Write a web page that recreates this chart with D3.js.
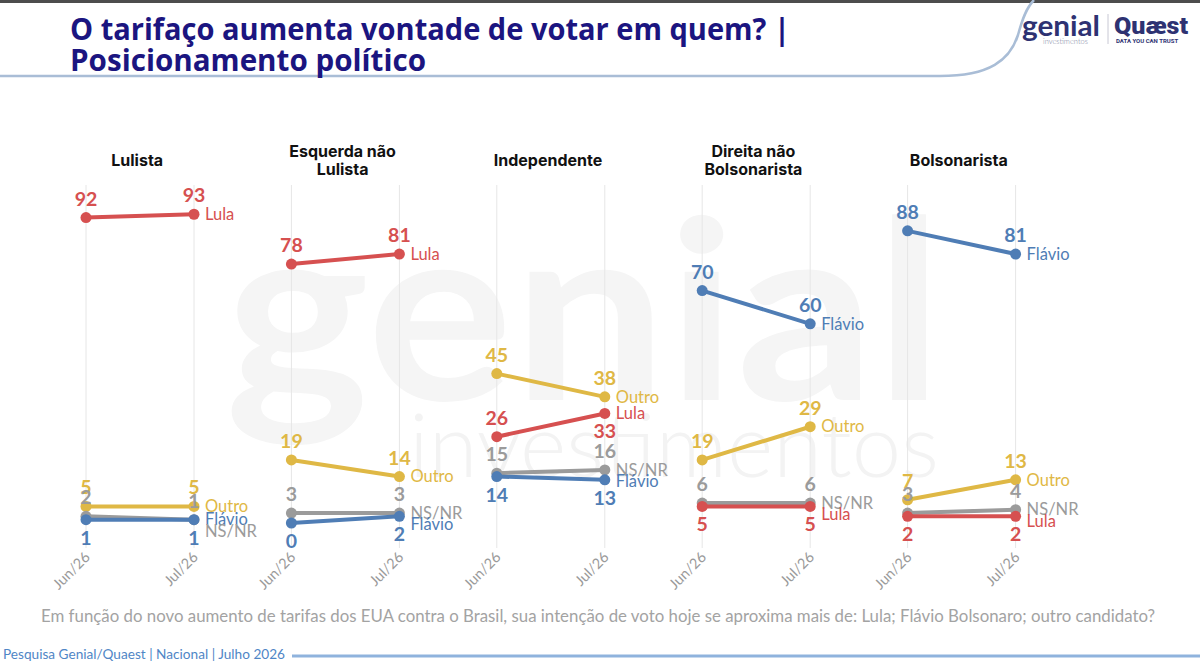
<!DOCTYPE html>
<html>
<head>
<meta charset="utf-8">
<script src="https://cdn.jsdelivr.net/npm/d3@7"></script>
<style>
  body { margin: 0; background: #fff; }
  svg { display: block; }
</style>
</head>
<body>
<div id="chart"></div>
<script>
// chart data
var panels = ["Lulista", "Esquerda não Lulista", "Independente", "Direita não Bolsonarista", "Bolsonarista"];
var panelTitleLines = [["Lulista"], ["Esquerda não", "Lulista"], ["Independente"], ["Direita não", "Bolsonarista"], ["Bolsonarista"]];
var periods = ["Jun/26", "Jul/26"];
var seriesNames = ["Outro", "NS/NR", "Flávio", "Lula"];

// values per panel: [Jun/26, Jul/26]
var lula   = [[92, 93], [78, 81], [26, 33], [5, 5], [2, 2]];
var flavio = [[1, 1], [0, 2], [14, 13], [70, 60], [88, 81]];
var outro  = [[5, 5], [19, 14], [45, 38], [19, 29], [7, 13]];
var nsnr   = [[2, 1], [3, 3], [15, 16], [6, 6], [3, 4]];

var valuesBySeries = {"Lula": lula, "Flávio": flavio, "Outro": outro, "NS/NR": nsnr};
var colors = {"Lula": "#d65050", "Flávio": "#4f7db5", "Outro": "#dfb845", "NS/NR": "#9b9b9b"};

// value labels placed under the point: [series, panel, period]
var belowLabels = [
  ["Flávio", 0, 0], ["Flávio", 0, 1],
  ["Flávio", 1, 0], ["Flávio", 1, 1],
  ["Flávio", 2, 0], ["Flávio", 2, 1], ["Lula", 2, 1],
  ["Lula", 3, 0], ["Lula", 3, 1],
  ["Lula", 4, 0], ["Lula", 4, 1]
];

var width = 1200, height = 663;

var svg = d3.select("#chart")
  .append("svg")
    .attr("width", width)
    .attr("height", height);

// watermark
svg.append("text")
  .attr("x", 225).attr("y", 400)
  .attr("textLength", 718).attr("lengthAdjust", "spacingAndGlyphs")
  .style("font-family", "Lato").style("font-weight", 700)
  .style("font-size", "250px").style("fill", "#f5f5f5")
  .text("genial");
svg.append("text")
  .attr("x", 409).attr("y", 477)
  .attr("textLength", 530).attr("lengthAdjust", "spacingAndGlyphs")
  .style("font-family", "Lato").style("font-weight", 300)
  .style("font-size", "88px").style("fill", "#f3f3f3")
  .text("investimentos");

// header
svg.append("rect").attr("x", 0).attr("y", 0).attr("width", width).attr("height", 3).style("fill", "#4d4d4d");
svg.append("path")
  .attr("d", "M0,76 L940,76 C990,76 1010,60 1018,35 C1022,20 1026,8 1034,0")
  .style("fill", "none").style("stroke", "#a9bdd6").style("stroke-width", 2.5);

var title = svg.append("text")
  .style("font-family", "Open Sans").style("font-weight", 700)
  .style("font-size", "30px").style("fill", "#1b1580");
title.append("tspan").attr("x", 70).attr("y", 40)
  .attr("textLength", 720).attr("lengthAdjust", "spacingAndGlyphs")
  .text("O tarifaço aumenta vontade de votar em quem? |");
title.append("tspan").attr("x", 70).attr("y", 71)
  .attr("textLength", 356).attr("lengthAdjust", "spacingAndGlyphs")
  .text("Posicionamento político");

// logos
svg.append("text").attr("x", 1022).attr("y", 36)
  .attr("textLength", 78).attr("lengthAdjust", "spacingAndGlyphs")
  .style("font-family", "Lato").style("font-weight", 700).style("font-size", "29px").style("fill", "#2e3272")
  .text("genial");
svg.append("text").attr("x", 1043).attr("y", 44)
  .style("font-family", "Lato").style("font-weight", 300).style("font-size", "7.5px").style("fill", "#7a7f9e")
  .text("investimentos");
svg.append("line").attr("x1", 1108).attr("x2", 1108).attr("y1", 14).attr("y2", 44)
  .style("stroke", "#c8c8d4").style("stroke-width", 1);
svg.append("text").attr("x", 1114).attr("y", 34)
  .attr("textLength", 74).attr("lengthAdjust", "spacingAndGlyphs")
  .style("font-family", "Roboto").style("font-weight", 900).style("font-size", "24px").style("fill", "#2e3272")
  .text("Quæst");
svg.append("text").attr("x", 1116).attr("y", 43)
  .style("font-family", "Roboto").style("font-weight", 700).style("font-size", "6px").style("fill", "#2e3272")
  .text("DATA YOU CAN TRUST");

// scales
var xPanel = d3.scaleBand().domain(panels).range([37.5, 1064.5]);
var xPeriod = d3.scalePoint().domain(periods).range([48.5, 156.5]);
var y = d3.scaleLinear().domain([0, 100]).range([523, 191]);

function px(panel, period) { return xPanel(panel) + xPeriod(period); }

panels.forEach(function(panel, pi) {
  var g = svg.append("g");

  // panel title
  var lines = panelTitleLines[pi];
  var cx = xPanel(panel) + xPanel.bandwidth() / 2 - 3;
  var ty = lines.length == 1 ? 166 : 157;
  lines.forEach(function(t, li) {
    g.append("text")
      .attr("x", cx).attr("y", ty + li * 18)
      .attr("text-anchor", "middle")
      .style("font-family", "Inter").style("font-weight", 700)
      .style("font-size", "16px").style("fill", "#111")
      .text(t);
  });

  // vertical grid lines + period labels
  periods.forEach(function(p) {
    var x = px(panel, p);
    g.append("line")
      .attr("x1", x).attr("x2", x).attr("y1", 185).attr("y2", 548)
      .style("stroke", "#e6e6e6").style("stroke-width", 1);
    g.append("text")
      .attr("transform", "translate(" + (x + 5) + ",558) rotate(-45)")
      .attr("text-anchor", "end")
      .style("font-family", "Lato").style("font-size", "14.5px").style("fill", "#9a9a9a")
      .text(p);
  });

  // lines and dots
  seriesNames.forEach(function(s) {
    var vals = valuesBySeries[s][pi];
    var pts = periods.map(function(p, i) { return {period: p, i: i, v: vals[i]}; });
    g.append("path")
      .datum(pts)
      .attr("d", d3.line()
        .x(function(d) { return px(panel, d.period); })
        .y(function(d) { return y(d.v); }))
      .style("fill", "none").style("stroke", colors[s]).style("stroke-width", 4);
    g.selectAll(null)
      .data(pts)
      .enter()
      .append("circle")
        .attr("cx", function(d) { return px(panel, d.period); })
        .attr("cy", function(d) { return y(d.v); })
        .attr("r", 5.5)
        .style("fill", colors[s]);
  });

  // value labels
  seriesNames.forEach(function(s) {
    var vals = valuesBySeries[s][pi];
    periods.forEach(function(p, i) {
      var below = belowLabels.some(function(b) { return b[0] == s && b[1] == pi && b[2] == i; });
      g.append("text")
        .attr("x", px(panel, p))
        .attr("y", y(vals[i]) + (below ? 25 : -12))
        .attr("text-anchor", "middle")
        .style("font-family", "Lato").style("font-weight", 700)
        .style("font-size", "19.5px").style("fill", colors[s])
        .text(vals[i]);
    });
  });

  // end labels with simple collision avoidance
  var ends = seriesNames.map(function(s) {
    return {s: s, y: y(valuesBySeries[s][pi][1]), v: valuesBySeries[s][pi][1]};
  });
  ends.sort(function(a, b) { return a.y - b.y || (a.s == "Flávio" ? -1 : 1); });
  for (var k = 1; k < ends.length; k++) {
    if (ends[k].y - ends[k - 1].y < 11.5) ends[k].y = ends[k - 1].y + 11.5;
  }
  ends.forEach(function(e) {
    g.append("text")
      .attr("x", px(panel, "Jul/26") + 11)
      .attr("y", e.y)
      .attr("dy", "0.35em")
      .style("font-family", "Lato").style("font-size", "16.5px").style("fill", colors[e.s])
      .text(e.s);
  });
});

// question
svg.append("text")
  .attr("x", 598).attr("y", 622)
  .attr("text-anchor", "middle")
  .attr("textLength", 1114).attr("lengthAdjust", "spacingAndGlyphs")
  .style("font-family", "Lato").style("font-size", "16.5px").style("fill", "#a3a3a3")
  .text("Em função do novo aumento de tarifas dos EUA contra o Brasil, sua intenção de voto hoje se aproxima mais de:  Lula; Flávio Bolsonaro; outro candidato?");

// footer
svg.append("text")
  .attr("x", 3).attr("y", 659)
  .attr("textLength", 282).attr("lengthAdjust", "spacingAndGlyphs")
  .style("font-family", "Lato").style("font-size", "13px").style("fill", "#4f86c6")
  .text("Pesquisa Genial/Quaest | Nacional | Julho 2026");
svg.append("line")
  .attr("x1", 292).attr("x2", width).attr("y1", 656).attr("y2", 656)
  .style("stroke", "#8fb3dd").style("stroke-width", 3);
</script>
</body>
</html>
